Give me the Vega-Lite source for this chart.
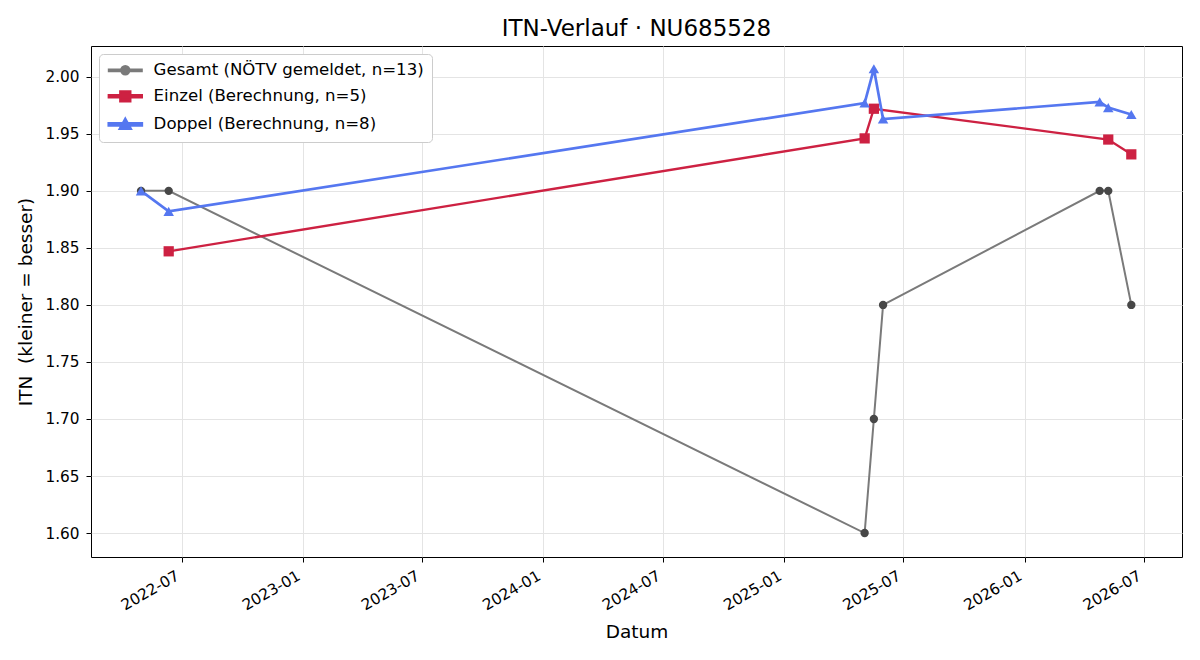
{
  "$schema": "https://vega.github.io/schema/vega-lite/v6.json",
  "width": 1091,
  "height": 511,
  "autosize": {"type": "none"},
  "padding": {"left": 91, "top": 46, "right": 18, "bottom": 103},
  "background": "white",
  "title": {"text": "ITN-Verlauf · NU685528", "font": "DejaVu Sans", "fontSize": 23, "fontWeight": "normal", "color": "black", "offset": 5},
  "config": {
    "font": "DejaVu Sans",
    "view": {"stroke": "black", "strokeWidth": 1},
    "axis": {
      "domain": false,
      "grid": true,
      "gridColor": "#e4e4e4",
      "gridWidth": 1,
      "tickColor": "black",
      "tickSize": 5,
      "labelFont": "DejaVu Sans",
      "labelFontSize": 15.3,
      "labelColor": "black",
      "titleFont": "DejaVu Sans",
      "titleFontSize": 18.5,
      "titleFontWeight": "normal",
      "titleColor": "black"
    }
  },
  "data": {
    "values": [
      {"series": "Gesamt (NÖTV gemeldet, n=13)", "date": "2022-04-30", "itn": 1.9},
      {"series": "Gesamt (NÖTV gemeldet, n=13)", "date": "2022-06-11", "itn": 1.9},
      {"series": "Gesamt (NÖTV gemeldet, n=13)", "date": "2025-05-03", "itn": 1.6},
      {"series": "Gesamt (NÖTV gemeldet, n=13)", "date": "2025-05-17", "itn": 1.7},
      {"series": "Gesamt (NÖTV gemeldet, n=13)", "date": "2025-05-31", "itn": 1.8},
      {"series": "Gesamt (NÖTV gemeldet, n=13)", "date": "2026-04-25", "itn": 1.9},
      {"series": "Gesamt (NÖTV gemeldet, n=13)", "date": "2026-05-08", "itn": 1.9},
      {"series": "Gesamt (NÖTV gemeldet, n=13)", "date": "2026-06-12", "itn": 1.8},
      {"series": "Einzel (Berechnung, n=5)", "date": "2022-06-11", "itn": 1.847},
      {"series": "Einzel (Berechnung, n=5)", "date": "2025-05-03", "itn": 1.946},
      {"series": "Einzel (Berechnung, n=5)", "date": "2025-05-17", "itn": 1.972},
      {"series": "Einzel (Berechnung, n=5)", "date": "2026-05-08", "itn": 1.945},
      {"series": "Einzel (Berechnung, n=5)", "date": "2026-06-12", "itn": 1.932},
      {"series": "Doppel (Berechnung, n=8)", "date": "2022-04-30", "itn": 1.9},
      {"series": "Doppel (Berechnung, n=8)", "date": "2022-06-11", "itn": 1.882},
      {"series": "Doppel (Berechnung, n=8)", "date": "2025-05-03", "itn": 1.977},
      {"series": "Doppel (Berechnung, n=8)", "date": "2025-05-17", "itn": 2.007},
      {"series": "Doppel (Berechnung, n=8)", "date": "2025-05-31", "itn": 1.963},
      {"series": "Doppel (Berechnung, n=8)", "date": "2026-04-25", "itn": 1.978},
      {"series": "Doppel (Berechnung, n=8)", "date": "2026-05-08", "itn": 1.973},
      {"series": "Doppel (Berechnung, n=8)", "date": "2026-06-12", "itn": 1.967}
    ]
  },
  "encoding": {
    "x": {
      "field": "date", "type": "temporal", "title": "Datum",
      "scale": {"domain": [{"year": 2022, "month": 2, "date": 13}, {"year": 2026, "month": 8, "date": 28}]},
      "axis": {
        "format": "%Y-%m",
        "values": [
          {"year": 2022, "month": 7, "date": 1}, {"year": 2023, "month": 1, "date": 1},
          {"year": 2023, "month": 7, "date": 1}, {"year": 2024, "month": 1, "date": 1},
          {"year": 2024, "month": 7, "date": 1}, {"year": 2025, "month": 1, "date": 1},
          {"year": 2025, "month": 7, "date": 1}, {"year": 2026, "month": 1, "date": 1},
          {"year": 2026, "month": 7, "date": 1}
        ],
        "labelAngle": -30, "labelAlign": "right", "labelBaseline": "top",
        "labelPadding": 6, "labelOffset": -8, "titlePadding": 9
      }
    },
    "y": {
      "field": "itn", "type": "quantitative", "title": "ITN\u00a0 (kleiner = besser)",
      "scale": {"domain": [1.579, 2.027], "nice": false, "zero": false},
      "axis": {
        "values": [1.6, 1.65, 1.7, 1.75, 1.8, 1.85, 1.9, 1.95, 2.0],
        "format": ".2f", "titlePadding": 9, "labelPadding": 7
      }
    }
  },
  "layer": [
    {
      "mark": {"type": "line"},
      "encoding": {
        "color": {
          "field": "series", "type": "nominal", "title": null,
          "sort": ["Gesamt (NÖTV gemeldet, n=13)", "Einzel (Berechnung, n=5)", "Doppel (Berechnung, n=8)"],
          "scale": {
            "domain": ["Gesamt (NÖTV gemeldet, n=13)", "Einzel (Berechnung, n=5)", "Doppel (Berechnung, n=8)"],
            "range": ["#7a7a7a", "#cd2142", "#5577f0"]
          },
          "legend": {
            "orient": "top-left", "offset": 8,
            "labelFont": "DejaVu Sans", "labelFontSize": 16.6, "labelColor": "black", "labelLimit": 500,
            "symbolSize": 100, "symbolOffset": 10, "labelOffset": 20, "rowPadding": 7,
            "padding": 8, "strokeColor": "#cccccc", "fillColor": "white", "cornerRadius": 4,
            "symbolStrokeWidth": 0,
            "encode": {
              "symbols": {
                "update": {
                  "shape": {"signal": "datum.value === 'Gesamt (NÖTV gemeldet, n=13)' ? 'M-3.3,-0.17 L3.3,-0.17 L3.3,0.17 L-3.3,0.17 Z M0.85,0 A0.85,0.85 0 1,1 -0.85,0 A0.85,0.85 0 1,1 0.85,0 Z' : datum.value === 'Einzel (Berechnung, n=5)' ? 'M-3.3,-0.21 L3.3,-0.21 L3.3,0.21 L-3.3,0.21 Z M-1,-1 L1,-1 L1,1 L-1,1 Z' : 'M-3.3,-0.21 L3.3,-0.21 L3.3,0.21 L-3.3,0.21 Z M0,-1.05 L1.05,0.85 L-1.05,0.85 Z'"},
                  "fill": {"scale": "color", "field": "value"},
                  "stroke": {"value": "transparent"},
                  "strokeWidth": {"value": 0},
                  "opacity": {"signal": "datum.value === 'Gesamt (NÖTV gemeldet, n=13)' ? 1 : 1"}
                }
              }
            }
          }
        },
        "strokeWidth": {
          "field": "series", "type": "nominal", "legend": null,
          "scale": {"domain": ["Gesamt (NÖTV gemeldet, n=13)", "Einzel (Berechnung, n=5)", "Doppel (Berechnung, n=8)"], "range": [2, 2.7, 2.7]}
        },
        "opacity": {
          "field": "series", "type": "nominal", "legend": null,
          "scale": {"domain": ["Gesamt (NÖTV gemeldet, n=13)", "Einzel (Berechnung, n=5)", "Doppel (Berechnung, n=8)"], "range": [1, 1, 1]}
        }
      }
    },
    {
      "transform": [{"filter": {"field": "series", "equal": "Gesamt (NÖTV gemeldet, n=13)"}}],
      "mark": {"type": "point", "shape": "circle", "filled": true, "opacity": 1, "size": 70, "color": "#474747"}
    },
    {
      "transform": [{"filter": {"field": "series", "equal": "Einzel (Berechnung, n=5)"}}],
      "mark": {"type": "point", "shape": "square", "filled": true, "opacity": 1, "size": 105, "color": "#cd2142"}
    },
    {
      "transform": [{"filter": {"field": "series", "equal": "Doppel (Berechnung, n=8)"}}],
      "mark": {"type": "point", "shape": "triangle-up", "filled": true, "opacity": 1, "size": 110, "color": "#5577f0"}
    }
  ]
}
